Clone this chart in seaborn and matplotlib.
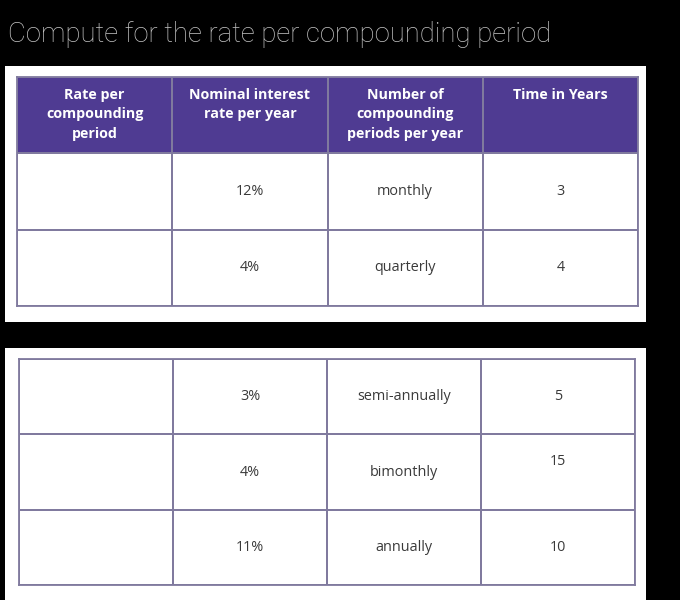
import numpy as np
import matplotlib.pyplot as plt
import seaborn as sns
from matplotlib.colors import ListedColormap
from matplotlib.patches import Rectangle

# Data
title = "Compute for the rate per compounding period"
headers = ["Rate per\ncompounding\nperiod", "Nominal interest\nrate per year",
           "Number of\ncompounding\nperiods per year", "Time in Years"]
rates_1 = ["12%", "4%"]
periods_1 = ["monthly", "quarterly"]
years_1 = ["3", "4"]
rates_2 = ["3%", "4%", "11%"]
periods_2 = ["semi-annually", "bimonthly", "annually"]
years_2 = ["5", "15", "10"]

W, H = 680, 600
purple = "#4f3b92"
line_col = "#807a9e"
text_col = "#3a3a3a"

sns.set_theme(style="white")
plt.rcParams["font.family"] = ["Open Sans", "DejaVu Sans"]

fig = plt.figure(figsize=(6.8, 6.0), dpi=100)
fig.patch.set_facecolor("black")

# white panels behind tables
for x0, y0, x1, y1 in [(5, 66, 646, 322), (5, 348, 646, 600)]:
    fig.patches.append(Rectangle((x0 / W, 1 - y1 / H), (x1 - x0) / W, (y1 - y0) / H,
                                 transform=fig.transFigure, facecolor="white",
                                 edgecolor="none", zorder=-5))

fig.text(8 / W, 1 - 34.5 / H, title, color="#c4c4c4", fontsize=19.8,
         family=["Roboto", "DejaVu Sans"], fontweight="light", va="center", ha="left")


def px_axes(x0, y0, x1, y1):
    return fig.add_axes([x0 / W, 1 - y1 / H, (x1 - x0) / W, (y1 - y0) / H])


def draw_table(ax, rows, header):
    n = len(rows)
    grid = np.zeros((n, 4))
    if header:
        grid[0, :] = 1
    sns.heatmap(grid, ax=ax, cmap=ListedColormap(["white", purple]), vmin=0, vmax=1,
                cbar=False, linewidths=1.3, linecolor=line_col,
                xticklabels=False, yticklabels=False)
    for s in ax.spines.values():
        s.set_visible(True)
        s.set_color(line_col)
        s.set_linewidth(1.3)
    for r, row in enumerate(rows):
        for c, val in enumerate(row):
            if header and r == 0:
                ax.text(c + 0.5, 0.14, val, ha="center", va="top", color="white",
                        fontsize=10.3, fontweight="bold", linespacing=1.5)
            else:
                dy = -0.14 if val == "15" else 0.0
                ax.text(c + 0.5, r + 0.5 + dy, val, ha="center", va="center",
                        color=text_col, fontsize=10.4)


ax1 = px_axes(17, 77, 638, 306)
rows1 = [headers] + [["", a, b, c] for a, b, c in zip(rates_1, periods_1, years_1)]
draw_table(ax1, rows1, header=True)

ax2 = px_axes(19, 359, 635, 585)
rows2 = [["", a, b, c] for a, b, c in zip(rates_2, periods_2, years_2)]
draw_table(ax2, rows2, header=False)

fig.savefig("out.png", dpi=100, facecolor=fig.get_facecolor())
